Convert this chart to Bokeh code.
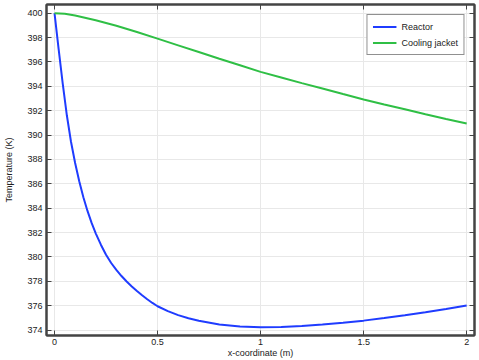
from bokeh.plotting import figure
from bokeh.models import LinearAxis, FixedTicker, Legend, LegendItem, Range1d
from bokeh.embed import file_html
from bokeh.resources import INLINE

# Reactor temperature (K) vs x-coordinate (m)
reactor_x = [0.00, 0.02, 0.04, 0.06, 0.08, 0.10, 0.12, 0.14, 0.16, 0.18, 0.20, 0.225, 0.25,
             0.275, 0.30, 0.325, 0.35, 0.375, 0.40, 0.425, 0.45, 0.475, 0.50, 0.55, 0.60,
             0.65, 0.70, 0.80, 0.90, 1.00, 1.10, 1.20, 1.30, 1.40, 1.50, 1.60, 1.70, 1.80,
             1.90, 2.00]
reactor_T = [400.0, 397.05, 394.20, 391.60, 389.45, 387.70, 386.20, 384.89, 383.77, 382.79,
             381.93, 381.00, 380.18, 379.50, 378.93, 378.43, 377.98, 377.57, 377.20, 376.85,
             376.52, 376.22, 375.95, 375.55, 375.22, 374.97, 374.76, 374.46, 374.29, 374.22,
             374.25, 374.33, 374.445, 374.59, 374.77, 374.98, 375.21, 375.46, 375.73, 376.02]

# Cooling jacket temperature (K)
jacket_x = [0.00, 0.05, 0.10, 0.20, 0.30, 0.40, 0.50, 0.60, 0.70, 0.80, 0.90, 1.00, 1.10,
            1.20, 1.30, 1.40, 1.50, 1.60, 1.70, 1.80, 1.90, 2.00]
jacket_T = [400.0, 399.95, 399.80, 399.42, 398.96, 398.45, 397.91, 397.36, 396.81, 396.26,
            395.72, 395.18, 394.72, 394.26, 393.81, 393.36, 392.92, 392.51, 392.11, 391.71,
            391.32, 390.94]

x_ticks = [0, 0.5, 1, 1.5, 2]
x_tick_labels = {0: "0", 0.5: "0.5", 1: "1", 1.5: "1.5", 2: "2"}
y_ticks = list(range(374, 401, 2))

FONT = "Liberation Sans"
BLUE = "#1f3cff"
GREEN = "#2fbf45"

p = figure(width=479, height=360, output_backend="svg", toolbar_location=None,
           x_range=Range1d(-0.0389, 2.038), y_range=Range1d(373.55, 400.71),
           min_border_left=46, min_border_right=5, min_border_top=4, min_border_bottom=23,
           x_axis_label="x-coordinate (m)", y_axis_label="Temperature (K)")

p.background_fill_color = "white"
p.border_fill_color = "white"
p.outline_line_color = "#444444"
p.outline_line_width = 2

for ax in (p.xaxis[0], p.yaxis[0]):
    ax.major_tick_in = 5
    ax.major_tick_out = 0
    ax.minor_tick_in = 0
    ax.minor_tick_out = 0
    ax.major_tick_line_color = "#444444"
    ax.axis_line_color = "#444444"
    ax.axis_line_width = 2
    ax.major_label_text_font = FONT
    ax.major_label_text_font_size = "9px"
    ax.major_label_text_color = "#222222"
    ax.axis_label_text_font = FONT
    ax.axis_label_text_font_size = "9px"
    ax.axis_label_text_font_style = "normal"
    ax.axis_label_text_color = "#222222"

p.xaxis[0].ticker = FixedTicker(ticks=x_ticks)
p.xaxis[0].major_label_overrides = x_tick_labels
p.xaxis[0].major_label_standoff = 3
p.xaxis[0].axis_label_standoff = 0
p.yaxis[0].ticker = FixedTicker(ticks=y_ticks)
p.yaxis[0].major_label_standoff = 4
p.yaxis[0].axis_label_standoff = 10

# top and right axes with inward ticks only
top = LinearAxis(ticker=FixedTicker(ticks=x_ticks),
                 major_label_overrides={t: "" for t in x_ticks})
right = LinearAxis(ticker=FixedTicker(ticks=y_ticks),
                   major_label_overrides={t: "" for t in y_ticks})
for ax in (top, right):
    ax.major_tick_in = 5
    ax.major_tick_out = 0
    ax.minor_tick_in = 0
    ax.minor_tick_out = 0
    ax.major_tick_line_color = "#444444"
    ax.axis_line_color = "#444444"
    ax.axis_line_width = 2
    ax.major_label_text_font_size = "9px"
    ax.major_label_standoff = 0
p.add_layout(top, "above")
p.add_layout(right, "right")

p.xgrid.ticker = FixedTicker(ticks=x_ticks)
p.ygrid.ticker = FixedTicker(ticks=y_ticks)
p.grid.grid_line_color = "#e8e8e8"
p.grid.grid_line_width = 1

r1 = p.line(reactor_x, reactor_T, line_color=BLUE, line_width=2)
r2 = p.line(jacket_x, jacket_T, line_color=GREEN, line_width=2)

legend = Legend(items=[LegendItem(label="Reactor", renderers=[r1]),
                       LegendItem(label="Cooling jacket", renderers=[r2])],
                location="top_right")
legend.margin = 10
legend.padding = 5
legend.spacing = 3
legend.glyph_width = 24
legend.glyph_height = 13
legend.label_height = 13
legend.label_text_font = FONT
legend.label_text_font_size = "9px"
legend.label_text_color = "#222222"
legend.label_standoff = 5
legend.border_line_color = "#222222"
legend.border_line_width = 1.5
legend.background_fill_color = "white"
legend.background_fill_alpha = 1
p.add_layout(legend, "center")

open("out.html", "w").write(file_html(p, INLINE))
